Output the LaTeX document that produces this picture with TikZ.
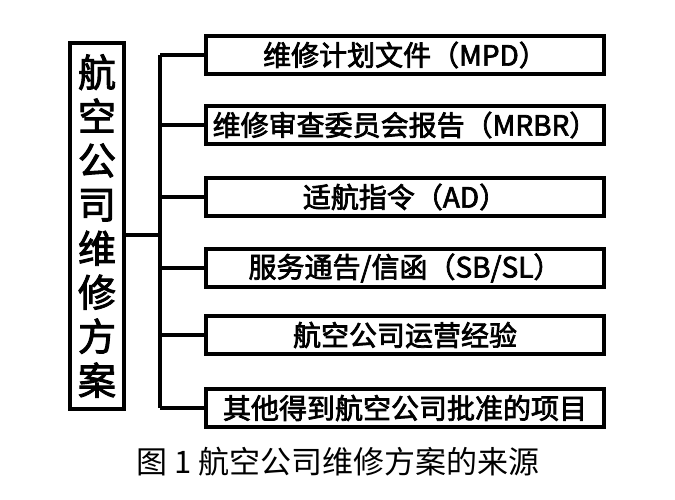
\documentclass[tikz,border=0pt]{standalone}
\usepackage{fontspec}
\setmainfont[AutoFakeBold=2.5]{Noto Sans CJK SC}
\begin{document}
\begin{tikzpicture}[x=1pt,y=-1pt,
  line/.style={line width=3.5pt},
  rbox/.style={draw,line width=3.5pt,minimum width=398pt,minimum height=38pt,font=\fontsize{28}{30}\selectfont\bfseries,inner sep=0pt}]
\useasboundingbox (0,0) rectangle (675,500);
\node[draw,line width=3.5pt,minimum width=54pt,minimum height=366pt,align=center,font=\fontsize{38}{44}\selectfont\bfseries,inner sep=0pt] (L) at (97,226) {航\\空\\公\\司\\维\\修\\方\\案};
\node[rbox] (b1) at (405,55) {维修计划文件（MPD）};
\node[rbox] (b2) at (405,125) {维修审查委员会报告（MRBR）};
\node[rbox] (b3) at (405,197) {适航指令（AD）};
\node[rbox] (b4) at (405,268) {服务通告/信函（SB/SL）};
\node[rbox] (b5) at (405,335) {航空公司运营经验};
\node[rbox] (b6) at (405,408) {其他得到航空公司批准的项目};
\coordinate (t1) at (160,55);
\coordinate (t6) at (160,408);
\coordinate (tm) at (160,235);
\draw[line] (t1) -- (t6);
\draw[line] (L.east |- tm) -- (tm);
\foreach \i in {1,...,6} {\draw[line] (160,0 |- b\i.west) -- (b\i.west);}
\node[font=\fontsize{31}{33}\selectfont] (cap) at (338,462) {图 1 航空公司维修方案的来源};
\end{tikzpicture}
\end{document}
